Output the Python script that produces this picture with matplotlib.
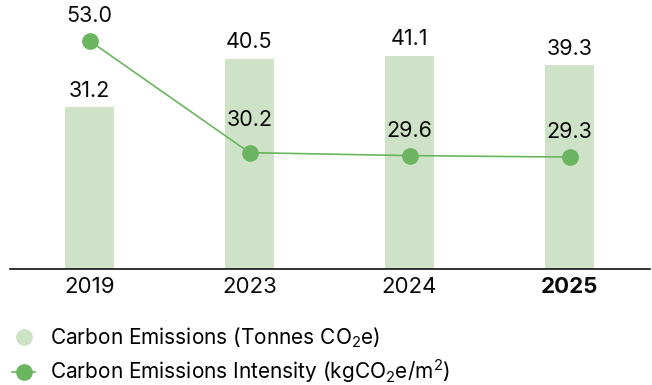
import matplotlib.pyplot as plt
from matplotlib.lines import Line2D

plt.rcParams['font.family'] = ['Inter', 'DejaVu Sans']
plt.rcParams['mathtext.fontset'] = 'custom'
plt.rcParams['mathtext.rm'] = 'Inter'
plt.rcParams['mathtext.it'] = 'Inter'

years = ['2019', '2023', '2024', '2025']
emissions = [31.2, 40.5, 41.1, 39.3]
intensity = [53.0, 30.2, 29.6, 29.3]

bar_color = '#cde2c6'
line_color = '#6bb460'
text_color = '#0a0a0a'

fig = plt.figure(figsize=(6.52, 3.85), dpi=100)
ax = fig.add_axes([9.5 / 652, 116 / 385, 640 / 652, 269 / 385])
x = range(len(years))

ax.bar(x, emissions, width=0.306, color=bar_color, zorder=1)
for i, v in enumerate(emissions):
    ax.annotate(f'{v:.1f}', (i, v), xytext=(0, 4.5), textcoords='offset points',
                ha='center', va='bottom', fontsize=15.5, color=text_color)
ax.set_ylim(0, 51.8)
ax.set_xlim(-0.5, 3.5)

ax2 = ax.twinx()
ax2.plot(x, intensity, color=line_color, lw=1.2, marker='o', ms=11, zorder=3)
label_offsets = [10.5, 16.5, 10.5, 10.5]
for i, v in enumerate(intensity):
    ax2.annotate(f'{v:.1f}', (i, v), xytext=(0, label_offsets[i]), textcoords='offset points',
                 ha='center', va='bottom', fontsize=15.5, color=text_color)
ax2.set_ylim(6.5, 61.3)

for a in (ax, ax2):
    for s in ['top', 'right', 'left']:
        a.spines[s].set_visible(False)
    a.set_yticks([])
ax2.spines['bottom'].set_visible(False)
ax.spines['bottom'].set_color('#111111')
ax.spines['bottom'].set_linewidth(1.2)

ax.set_xticks(list(x))
ax.set_xticklabels(years, fontsize=16, color=text_color)
ax.tick_params(axis='x', length=0, pad=6)
ax.get_xticklabels()[-1].set_fontweight('bold')

handles = [
    Line2D([], [], ls='none', marker='o', ms=11, color=bar_color),
    Line2D([], [], color=line_color, lw=1.2, marker='o', ms=11),
]
labels = ['Carbon Emissions (Tonnes CO$_2$e)',
          'Carbon Emissions Intensity (kgCO$_2$e/m$^2$)']
fig.legend(handles, labels, loc='upper left', bbox_to_anchor=(0.019, 0.154),
           frameon=False, fontsize=15, handlelength=1.1, handletextpad=0.7,
           labelspacing=0.36, borderaxespad=0, borderpad=0.0)

fig.savefig('out.png', dpi=100)
